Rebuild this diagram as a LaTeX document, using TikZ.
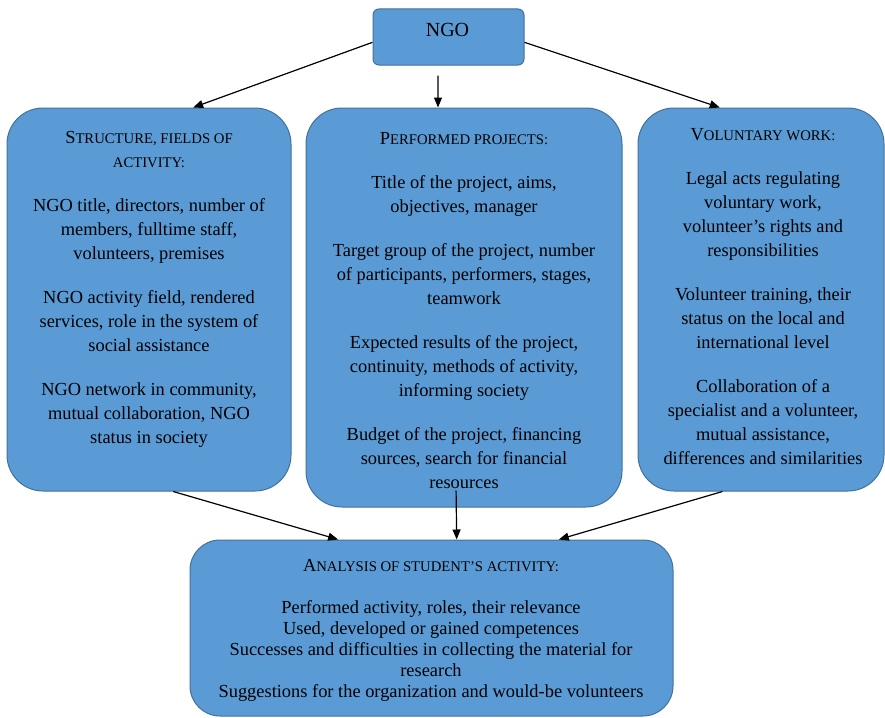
\documentclass[tikz,border=0pt]{standalone}
\usepackage{fontspec}
\setmainfont{Liberation Serif}
\usetikzlibrary{arrows.meta,calc}
\definecolor{boxfill}{HTML}{5B9BD5}
\definecolor{boxline}{HTML}{41719C}
% heading in small capitals: full-size initial, reduced capitals after it
\newcommand\capsmall[2]{#1{\fontsize{14.7}{21}\selectfont #2}}

\begin{document}
\begin{tikzpicture}[x=1pt,y=-1pt,
  panel/.style={draw=boxline, fill=boxfill, line width=1pt, inner sep=0pt, rounded corners=36pt},
  bodytext/.style={inner sep=0pt, align=center, anchor=north, text=black,
                   font=\fontsize{18.4}{24}\selectfont},
  link/.style={line width=1.2pt, -{Triangle[length=10pt,width=8pt]}}]
\useasboundingbox (0,0) rectangle (885,717);

% boxes
\node[panel, rounded corners=6pt, minimum width=151pt, minimum height=56pt] (ngo) at (448.5,37) {};
\node[panel, minimum width=284pt, minimum height=383pt] (leftbox) at (149,299.5) {};
\node[panel, minimum width=316pt, minimum height=399pt] (midbox) at (464,307.5) {};
\node[panel, minimum width=246pt, minimum height=383pt] (rightbox) at (761,299.5) {};
\node[panel, rounded corners=30pt, minimum width=483pt, minimum height=176pt] (bottombox) at (431.5,628) {};

% texts
\node[inner sep=0pt, anchor=base, font=\fontsize{20}{24}\selectfont] (ngotext) at (447.5,37) {NGO};

\node[bodytext] (lefttext) at (149,129) {\rule{0pt}{14pt}\capsmall{S}{TRUCTURE, FIELDS OF}\\
\capsmall{}{ACTIVITY:}\\[20pt]
NGO title, directors, number of\\ members, fulltime staff,\\ volunteers, premises\\[20pt]
NGO activity field, rendered\\ services, role in the system of\\ social assistance\\[20pt]
NGO network in community,\\ mutual collaboration, NGO\\ status in society};

\node[bodytext] (midtext) at (464,130) {\rule{0pt}{14pt}\capsmall{P}{ERFORMED PROJECTS:}\\[20pt]
Title of the project, aims,\\ objectives, manager\\[20pt]
Target group of the project, number\\ of participants, performers, stages,\\ teamwork\\[20pt]
Expected results of the project,\\ continuity, methods of activity,\\ informing society\\[20pt]
Budget of the project, financing\\ sources, search for financial\\ resources};

\node[bodytext] (righttext) at (763,126) {\rule{0pt}{14pt}\capsmall{V}{OLUNTARY WORK:}\\[20pt]
Legal acts regulating\\ voluntary work,\\ volunteer’s rights and\\ responsibilities\\[20pt]
Volunteer training, their\\ status on the local and\\ international level\\[20pt]
Collaboration of a\\ specialist and a volunteer,\\ mutual assistance,\\ differences and similarities};

\node[bodytext, font=\fontsize{18.4}{21}\selectfont] (bottomtext) at (431,557) {\rule{0pt}{14pt}\capsmall{A}{NALYSIS OF STUDENT’S ACTIVITY:}\\[21pt]
Performed activity, roles, their relevance\\
Used, developed or gained competences\\
Successes and difficulties in collecting the material for\\
research\\
Suggestions for the organization and would-be volunteers};

% connector end points
\coordinate (ngodown) at ($(ngo.south)+(-10.5,10)$);
\coordinate (leftin) at ($(leftbox.north west)!0.655!(leftbox.north east)$);
\coordinate (midin) at ($(midbox.north west)!0.418!(midbox.north east)$);
\coordinate (rightin) at ($(rightbox.north west)!0.333!(rightbox.north east)$);
\coordinate (leftout) at ($(leftbox.south west)!0.585!(leftbox.south east)$);
\coordinate (midout) at ($(midbox.south west)!0.475!(midbox.south east)+(0,-17)$);
\coordinate (rightout) at ($(rightbox.south west)!0.344!(rightbox.south east)$);
\coordinate (bottomleft) at ($(bottombox.north west)!0.307!(bottombox.north east)$);
\coordinate (bottommid) at ($(bottombox.north west)!0.552!(bottombox.north east)$);
\coordinate (bottomright) at ($(bottombox.north west)!0.763!(bottombox.north east)$);

% connectors
\draw[link] (ngo.184) -- (leftin);
\draw[link] (ngodown) -- (midin);
\draw[link] (ngo.356) -- (rightin);
\draw[link] (leftout) -- (bottomleft);
\draw[link] (midout) -- (bottommid);
\draw[link] (rightout) -- (bottomright);
\end{tikzpicture}
\end{document}
